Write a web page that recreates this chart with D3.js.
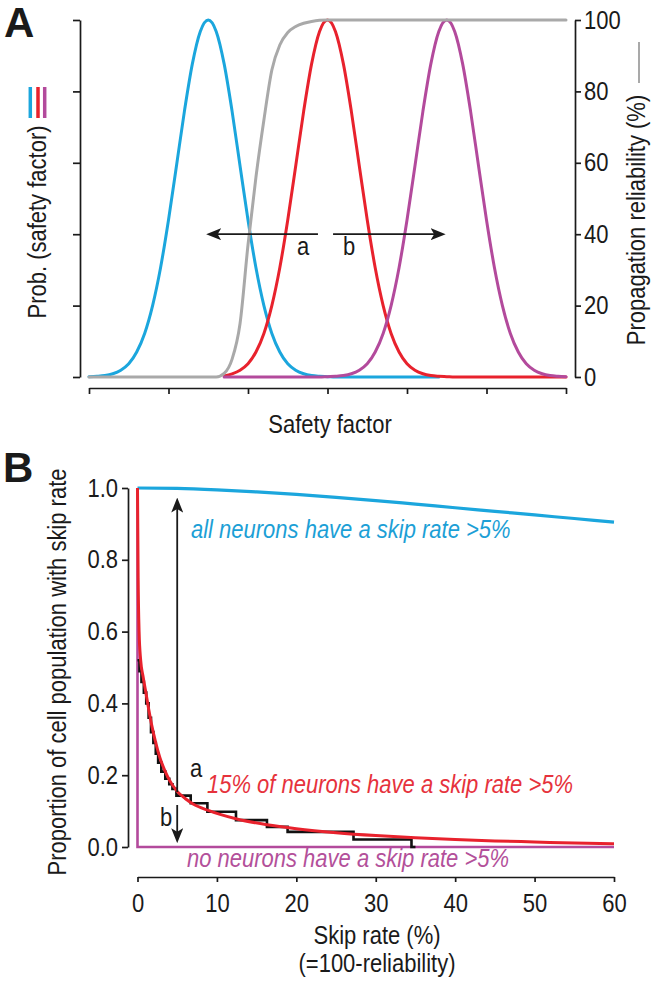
<!DOCTYPE html>
<html>
<head>
<meta charset="utf-8">
<script src="https://cdn.jsdelivr.net/npm/d3@7"></script>
<style>
  html, body { margin: 0; padding: 0; background: #ffffff; }
  svg { display: block; }
</style>
</head>
<body>
<script>
// ---------------- Panel A data ----------------
const safetyFactor = [0,0.1,0.2,0.3,0.4,0.5,0.6,0.7,0.8,0.9,1,1.1,1.2,1.3,1.4,1.5,1.6,1.7,1.8,1.9,2,2.1,2.2,2.3,2.4,2.5,2.6,2.7,2.8,2.9,3,3.1,3.2,3.3,3.4,3.5,3.6,3.7,3.8,3.9,4,4.1,4.2,4.3,4.4,4.5,4.6,4.7,4.8,4.9,5,5.1,5.2,5.3,5.4,5.5,5.6,5.7,5.8,5.9,6];
const safetyTicks = [0,1,2,3,4,5,6];
const probCyan = [0.1,0.2,0.4,0.9,1.9,3.7,7.0,12.2,20.0,30.6,44.0,59.1,74.4,87.7,96.8,100,96.8,87.7,74.4,59.1,44.0,30.6,20.0,12.2,7.0,3.7,1.9,0.9,0.4,0.2,0.1,
  0,0,0,0,0,0,0,0,0,0,0,0,0,0,
  null,null,null,null,null,null,null,null,null,null,null,null,null,null,null,null];
const probRed = [null,null,null,null,null,null,null,null,null,null,null,null,null,null,null,null,null,
  0.3,0.9,1.9,3.7,7.0,12.2,20.0,30.6,44.0,59.1,74.4,87.7,96.8,100,96.8,87.7,74.4,59.1,44.0,30.6,20.0,12.2,7.0,3.7,1.9,0.9,0.4,0.2,0.1,
  0,0,0,0,0,0,0,0,0,0,0,0,0,0,0];
const probMagenta = [null,null,null,null,null,null,null,null,null,null,null,null,null,null,null,null,null,
  0,0,0,0,0,0,0,0,0,0,0,0,0,
  0.1,0.2,0.4,0.9,1.9,3.7,7.0,12.2,20.0,30.6,44.0,59.1,74.4,87.7,96.8,100,96.8,87.7,74.4,59.1,44.0,30.6,20.0,12.2,7.0,3.7,1.9,0.9,0.4,0.2,0.1];
const reliabilityGray = [0,0,0,0,0,0,0,0,0,0,0,0,0,0,0,0,0,
  1,5,15,37,56,72,86,93,96.5,98.2,99.1,99.6,99.9,
  100,100,100,100,100,100,100,100,100,100,100,100,100,100,100,100,100,100,100,100,100,100,100,100,100,100,100,100,100,100,100];
const reliabilityTicks = [0,20,40,60,80,100];
const shiftArrowA = [2.88, 1.48];   // from, to (safety factor)
const shiftArrowB = [3.07, 4.48];
const shiftArrowLevel = 40;

// ---------------- Panel B data ----------------
const skipTicks = [0,10,20,30,40,50,60];
const propTicks = [0,0.2,0.4,0.6,0.8,1.0];
const skipBlue = [0,5,10,15,20,25,30,35,40,45,50,55,60];
const propBlue = [1.0,0.999,0.995,0.989,0.982,0.974,0.965,0.955,0.945,0.935,0.925,0.915,0.905];
const skipRed = [0,0.08,0.2,0.4,0.7,1.0,1.4,1.8,2.3,2.8,3.4,4.0,5,6,7,8.9,10.5,12.5,16.3,20,25,30,35,40,45,50,55,60];
const propRed = [1.0,0.75,0.6,0.52,0.475,0.437,0.385,0.338,0.29,0.25,0.215,0.187,0.155,0.135,0.12,0.102,0.09,0.078,0.062,0.051,0.04,0.032,0.026,0.021,0.017,0.014,0.011,0.009];
const skipBlack = [0,0.25,0.5,0.8,1.1,1.4,1.7,2.0,2.3,2.6,3.0,3.5,4.0,4.4,4.9,6.7,8.8,12.4,16.3,18.9,27.2,34.5,35.0];
const propBlack = [0.52,0.49,0.46,0.43,0.40,0.36,0.32,0.29,0.26,0.235,0.21,0.19,0.175,0.162,0.143,0.122,0.098,0.075,0.056,0.042,0.021,0,0];
const skipMagenta = [0,0,60];
const propMagenta = [1.0,0,0];
const arrowUp = [5, 0.153, 0.972];    // skip, from, to
const arrowDown = [5, 0.117, 0.012];

// ---------------- style ----------------
const FONT = "'Liberation Sans',Arial,Helvetica,sans-serif";
const FS = 25;          // rendered slightly condensed, like the original's narrow face
const SX = 0.88;
const C_CYAN = "#1ba6dd", C_RED = "#e8222d", C_MAG = "#b34a9c", C_GRAY = "#a9a9a9", C_INK = "#1a1a1a";
const T_CYAN = "#1c9fd6", T_RED = "#e6323c", T_MAG = "#b3509a";

const svg = d3.select("body").append("svg").attr("width", 655).attr("height", 987);

const defs = svg.append("defs");
defs.append("marker").attr("id", "head")
  .attr("viewBox", "0 0 15 12").attr("refX", 14.5).attr("refY", 6)
  .attr("markerWidth", 15).attr("markerHeight", 12)
  .attr("markerUnits", "userSpaceOnUse").attr("orient", "auto")
  .append("path").attr("d", "M0,0 L15,6 L0,12 L3.5,6 Z").attr("fill", C_INK);

function styleAxis(g) {
  g.attr("font-family", null).attr("font-size", null);
  g.selectAll("path, line").attr("stroke", C_INK).attr("stroke-width", 1.7);
  g.selectAll("text").attr("font-family", FONT).attr("font-size", FS).attr("fill", C_INK)
    .each(function () {
      const t = d3.select(this);
      const x = +t.attr("x") || 0;
      t.attr("x", x / SX).attr("transform", `scale(${SX},1)`);
    });
}
function label(x, y, txt, opts = {}) {
  const sx = opts.noScale ? 1 : SX;
  const tr = `translate(${x},${y})` + (opts.rotate ? " rotate(-90)" : "") + ` scale(${sx},1)`;
  const t = svg.append("text").attr("x", 0).attr("y", 0).attr("transform", tr).text(txt)
    .attr("font-family", opts.family || FONT).attr("font-size", opts.size || FS)
    .attr("fill", opts.fill || C_INK).attr("text-anchor", opts.anchor || "start");
  if (opts.italic) t.attr("font-style", "italic");
  if (opts.bold) t.attr("font-weight", "bold");
  return t;
}
function arrow(x1, y1, x2, y2) {
  const L = Math.hypot(x2 - x1, y2 - y1);
  const ux = (x2 - x1) / L, uy = (y2 - y1) / L;
  svg.append("line").attr("x1", x1).attr("y1", y1).attr("x2", x2 - ux * 9).attr("y2", y2 - uy * 9)
    .attr("stroke", C_INK).attr("stroke-width", 1.8);
  svg.append("line").attr("x1", x2 - ux * 10).attr("y1", y2 - uy * 10).attr("x2", x2 - ux * 0.01).attr("y2", y2 - uy * 0.01)
    .attr("stroke", "none").attr("marker-end", "url(#head)");
}

// ================= Panel A =================
const xA = d3.scaleLinear().domain([0, 6]).range([89, 566]);
const yA = d3.scaleLinear().domain([0, 100]).range([377, 20]);

svg.append("g").attr("transform", "translate(80,0)")
  .call(d3.axisLeft(yA).tickValues(reliabilityTicks).tickSize(7).tickSizeOuter(0).tickFormat(""))
  .call(styleAxis);
svg.append("g").attr("transform", "translate(575,0)")
  .call(d3.axisRight(yA).tickValues(reliabilityTicks).tickSize(6).tickSizeOuter(0).tickPadding(3))
  .call(styleAxis);
svg.append("g").attr("transform", "translate(0,388)")
  .call(d3.axisBottom(xA).tickValues(safetyTicks).tickSize(6).tickSizeOuter(0).tickFormat(""))
  .call(styleAxis);

function curveA(values, color) {
  const pts = safetyFactor.map((s, i) => [s, values[i]]);
  const line = d3.line().defined(d => d[1] !== null).x(d => xA(d[0])).y(d => yA(d[1])).curve(d3.curveMonotoneX);
  svg.append("path").attr("d", line(pts)).attr("fill", "none").attr("stroke", color)
    .attr("stroke-width", 3).attr("stroke-linejoin", "round").attr("stroke-linecap", "round");
}
curveA(probCyan, C_CYAN);
curveA(probRed, C_RED);
curveA(probMagenta, C_MAG);
curveA(reliabilityGray, C_GRAY);

arrow(xA(shiftArrowA[0]), yA(shiftArrowLevel), xA(shiftArrowA[1]), yA(shiftArrowLevel));
arrow(xA(shiftArrowB[0]), yA(shiftArrowLevel), xA(shiftArrowB[1]), yA(shiftArrowLevel));
label(297, 255, "a");
label(343, 255, "b");

label(4, 37, "A", { size: 42, bold: true, noScale: true });
label(46, 222, "Prob. (safety factor)", { rotate: true, anchor: "middle" });
[[30.3, C_CYAN], [38, C_RED], [44.7, C_MAG]].forEach(([x, c]) => {
  svg.append("line").attr("x1", x).attr("x2", x).attr("y1", 87).attr("y2", 118)
    .attr("stroke", c).attr("stroke-width", 3.5);
});
label(645, 220, "Propagation reliability (%)", { rotate: true, anchor: "middle" });
svg.append("line").attr("x1", 639).attr("x2", 639).attr("y1", 42).attr("y2", 83)
  .attr("stroke", C_GRAY).attr("stroke-width", 2);
label(330, 433, "Safety factor", { anchor: "middle" });

// ================= Panel B =================
const xB = d3.scaleLinear().domain([0, 60]).range([137.5, 614]);
const yB = d3.scaleLinear().domain([0, 1]).range([847, 488]);

svg.append("g").attr("transform", "translate(128,0)")
  .call(d3.axisLeft(yB).tickValues(propTicks).tickSize(6).tickSizeOuter(0).tickPadding(4).tickFormat(d3.format(".1f")))
  .call(styleAxis);
svg.append("g").attr("transform", "translate(0,877)")
  .call(d3.axisBottom(xB).tickValues(skipTicks).tickSize(5).tickSizeOuter(0).tickPadding(12))
  .call(styleAxis);

function curveB(xs, ys, color, width, curve) {
  const pts = xs.map((x, i) => [x, ys[i]]);
  const line = d3.line().x(d => xB(d[0])).y(d => yB(d[1])).curve(curve);
  svg.append("path").attr("d", line(pts)).attr("fill", "none").attr("stroke", color)
    .attr("stroke-width", width).attr("stroke-linejoin", "miter");
}
curveB(skipMagenta, propMagenta, C_MAG, 2.6, d3.curveLinear);
curveB(skipBlue, propBlue, C_CYAN, 3.2, d3.curveMonotoneX);
curveB(skipBlack, propBlack, "#111111", 2.6, d3.curveStepAfter);
curveB(skipRed, propRed, C_RED, 3, d3.curveMonotoneX);

arrow(xB(arrowUp[0]), yB(arrowUp[1]), xB(arrowUp[0]), yB(arrowUp[2]));
arrow(xB(arrowDown[0]), yB(arrowDown[1]), xB(arrowDown[0]), yB(arrowDown[2]));
label(190, 777, "a");
label(160, 826, "b");

label(191, 538, "all neurons have a skip rate >5%", { fill: T_CYAN, italic: true });
label(207, 793, "15% of neurons have a skip rate >5%", { fill: T_RED, italic: true });
label(187, 867, "no neurons have a skip rate >5%", { fill: T_MAG, italic: true });

label(3, 482, "B", { size: 42, bold: true, noScale: true });
label(66, 672, "Proportion of cell population with skip rate", { rotate: true, anchor: "middle" });
label(377, 944, "Skip rate (%)", { anchor: "middle" });
label(377, 972, "(=100-reliability)", { anchor: "middle" });
</script>
</body>
</html>
